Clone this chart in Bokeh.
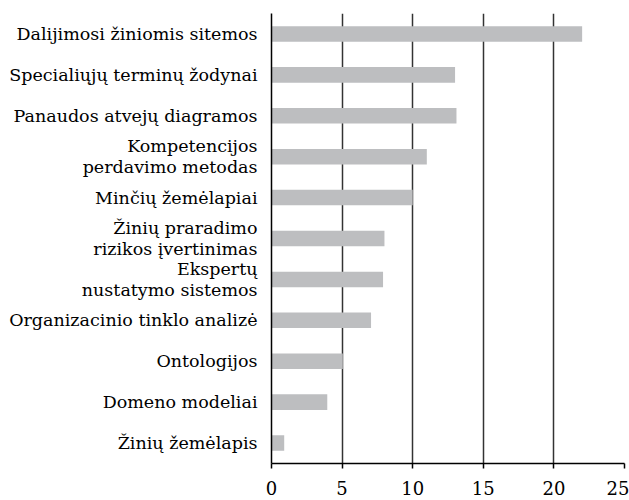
from bokeh.plotting import figure
from bokeh.models import FactorRange, FixedTicker
from bokeh.embed import file_html
from bokeh.resources import INLINE

categories = [
    "Dalijimosi žiniomis sitemos",
    "Specialiųjų terminų žodynai",
    "Panaudos atvejų diagramos",
    "Kompetencijos\nperdavimo metodas",
    "Minčių žemėlapiai",
    "Žinių praradimo\nrizikos įvertinimas",
    "Ekspertų\nnustatymo sistemos",
    "Organizacinio tinklo analizė",
    "Ontologijos",
    "Domeno modeliai",
    "Žinių žemėlapis",
]
values = [22.0, 13.0, 13.1, 11.0, 10.0, 8.0, 7.9, 7.05, 5.05, 3.95, 0.9]
x_ticks = [0, 5, 10, 15, 20, 25]

FONT = "DejaVu Serif"

p = figure(
    width=629, height=500,
    y_range=FactorRange(factors=list(reversed(categories))),
    x_range=(0, 25),
    output_backend="svg", toolbar_location=None,
    min_border_left=271, min_border_right=5, min_border_top=13, min_border_bottom=37,
)
p.hbar(y=categories, right=values, left=0, height=0.38, color="#bdbec0", line_color=None)

p.outline_line_color = None
p.ygrid.grid_line_color = None
p.xgrid.grid_line_color = "#333333"
p.xgrid.grid_line_width = 1.5
p.xgrid.ticker = FixedTicker(ticks=x_ticks)

p.xaxis.ticker = FixedTicker(ticks=x_ticks)
p.xaxis.axis_line_color = "black"
p.xaxis.axis_line_width = 1.5
p.xaxis.major_tick_line_color = "black"
p.xaxis.major_tick_line_width = 1.5
p.xaxis.major_tick_in = 0
p.xaxis.major_tick_out = 5
p.xaxis.minor_tick_line_color = None
p.xaxis.major_label_text_font = FONT
p.xaxis.major_label_text_font_size = "18px"
p.xaxis.major_label_text_color = "black"
p.xaxis.major_label_standoff = 12

p.yaxis.axis_line_color = "black"
p.yaxis.axis_line_width = 1.5
p.yaxis.major_tick_line_color = None
p.yaxis.major_tick_out = 0
p.yaxis.major_tick_in = 0
p.yaxis.major_label_text_font = FONT
p.yaxis.major_label_text_font_size = "17.5px"
p.yaxis.major_label_text_color = "black"
p.yaxis.major_label_text_line_height = 1.05
p.yaxis.major_label_standoff = 14

open("out.html", "w").write(file_html(p, INLINE))
